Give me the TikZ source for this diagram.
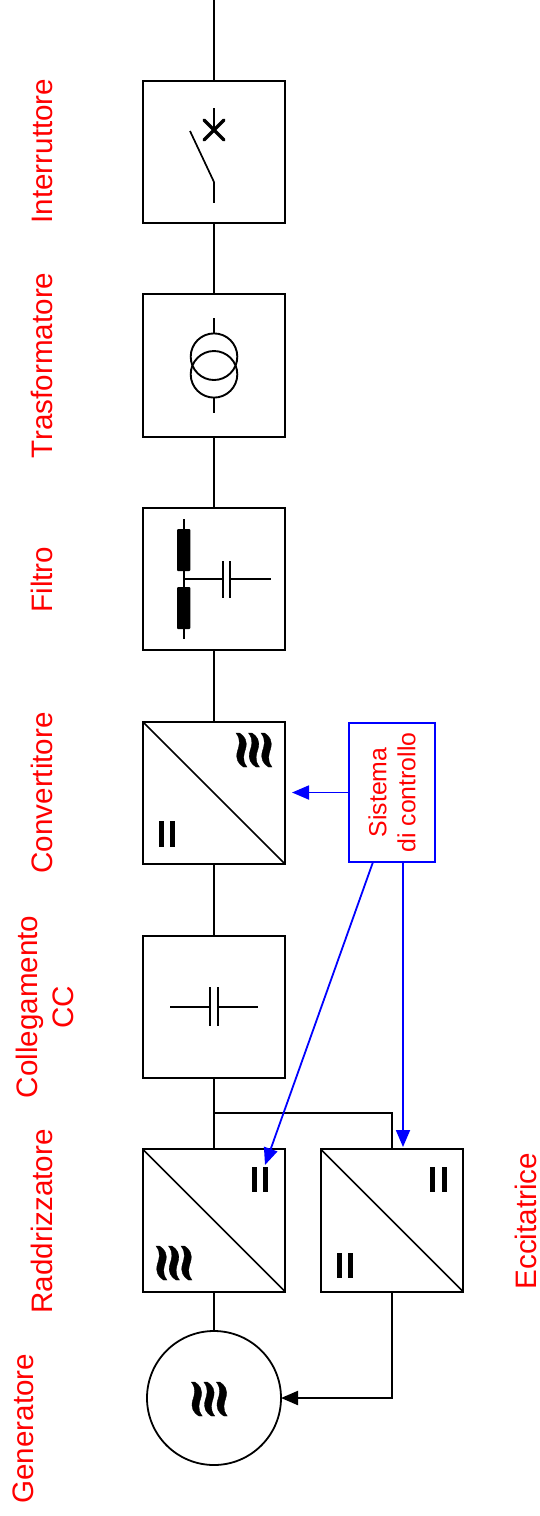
\documentclass[tikz,border=0pt]{standalone}
\usepackage{fontspec}
\setmainfont[Kerning=Off]{Liberation Sans}
\usetikzlibrary{arrows.meta}
\tikzset{
  x=1pt,y=-1pt,
  wire/.style={black,line width=2pt},
  thin wire/.style={black,line width=1.6pt},
  unit/.style={draw=black,line width=2pt,fill=white,minimum size=142.4pt,inner sep=0pt,outer sep=0pt},
  gen/.style={circle,draw=black,line width=1.8pt,fill=white,minimum size=134pt,inner sep=0pt,outer sep=0pt},
  lab/.style={text=red,rotate=90,anchor=base west,inner sep=0pt,outer sep=0pt,font=\fontsize{29.6}{36}\selectfont},
  labc/.style={text=red,rotate=90,anchor=center,align=center,inner sep=0pt,outer sep=0pt,font=\fontsize{29.6}{36}\selectfont},
  ctrlbox/.style={draw=blue,line width=1.8pt,text=red,rotate=90,align=center,minimum width=139pt,minimum height=86pt,inner sep=0pt,outer sep=0pt,font=\fontsize{24.8}{29}\selectfont},
  ctl/.style={blue,line width=1.8pt,-{Triangle[length=17pt,width=14pt]}},
  feed/.style={black,line width=2pt,-{Triangle[length=17pt,width=14pt]}},
  waves/.pic={
    \foreach \dx in {-12.5,0,12.5}{
      \filldraw[black,line width=0.3pt,shift={(\dx,0)}] (-5.5,-17) -- (-2,-17)
        .. controls (3,-14) and (6.5,-9) .. (4,-1)
        .. controls (2.5,4) and (0,10) .. (5.5,17)
        -- (2,17)
        .. controls (-3,14) and (-6.5,9) .. (-4,1)
        .. controls (-2.5,-4) and (0,-10) .. (-5.5,-17) -- cycle;
    }
  },
  bars/.pic={
    \fill[black] (-8.2,-12.8) rectangle (-3.2,12.8);
    \fill[black] (3.2,-12.8) rectangle (8.2,12.8);
  }
}
\begin{document}
\begin{tikzpicture}
\useasboundingbox (0,0) rectangle (540,1516);
\fill[white] (0,0) rectangle (540,1516);

% units
\node[unit] (intr) at (214,152) {};
\node[unit] (traf) at (214,365.5) {};
\node[unit] (filt) at (214,579) {};
\node[unit] (conv) at (214,793) {};
\node[unit] (dc) at (214,1007) {};
\node[unit] (rect) at (214,1220.5) {};
\node[unit] (exc) at (392,1220.5) {};
\node[gen] (gena) at (214,1398) {};
\node[ctrlbox] (ctrl) at (392,792.5) {Sistema\\di controllo};

% main connectors
\coordinate (top) at (214,0);
\coordinate (tap) at (214,1113);
\coordinate (tapr) at (392,1113);
\coordinate (fbk) at (392,1398);
\draw[wire] (top) -- (intr.north);
\draw[wire] (intr.south) -- (traf.north);
\draw[wire] (traf.south) -- (filt.north);
\draw[wire] (filt.south) -- (conv.north);
\draw[wire] (conv.south) -- (dc.north);
\draw[wire] (dc.south) -- (rect.north);
\draw[wire] (rect.south) -- (gena.north);
\draw[wire,line join=miter] (tap) -- (tapr) -- (exc.north);
\draw[feed] (exc.south) -- (fbk) -- (gena.east);

% control arrows
\coordinate (convtip) at (292,792.5);
\coordinate (diagstart) at (373,862);
\coordinate (diagtip) at (265,1165);
\coordinate (vstart) at (403,862);
\coordinate (vtip) at (403,1147);
\draw[ctl] (ctrl.north) -- (convtip);
\draw[ctl] (diagstart) -- (diagtip);
\draw[ctl] (vstart) -- (vtip);

% converter diagonals
\draw[thin wire] (conv.north west) -- (conv.south east);
\draw[thin wire] (rect.north west) -- (rect.south east);
\draw[thin wire] (exc.north west) -- (exc.south east);
\pic at (254,750) {waves};
\pic at (174,1263) {waves};
\pic at (209.3,1399) {waves};
\pic at (167.2,834) {bars};
\pic at (260.2,1179.5) {bars};
\pic at (438.5,1179.5) {bars};
\pic at (344.8,1265.5) {bars};

% breaker
\draw[wire] (214,108) -- (214,130);
\draw[black,line width=3.4pt,line cap=round] (204,120) -- (224,140) (224,120) -- (204,140);
\draw[black,line width=1.7pt] (190,131) -- (214,182);
\draw[wire] (214,182) -- (214,203);

% transformer
\draw[wire] (214,318) -- (214,333.4);
\draw[wire] (214,397.7) -- (214,413);
\draw[black,line width=1.9pt] (214,356.7) circle[radius=23.3];
\draw[black,line width=1.9pt] (214,374.3) circle[radius=23.3];

% filter
\draw[wire] (183.5,519) -- (183.5,639);
\fill[black,rounded corners=1pt] (177,529) rectangle (190.3,571);
\fill[black,rounded corners=1pt] (177,587) rectangle (190.3,629);
\draw[wire] (183.5,579.3) -- (223,579.3);
\draw[wire] (230.3,579.3) -- (270.7,579.3);
\draw[wire] (223,561) -- (223,597.7);
\draw[wire] (230.3,561) -- (230.3,597.7);

% dc link
\draw[wire] (170,1007) -- (210,1007);
\draw[wire] (218,1007) -- (258,1007);
\draw[wire] (210,987) -- (210,1026);
\draw[wire] (218,987) -- (218,1026);

% labels
\node[lab] (l1) at (52.8,223.5) {Interruttore};
\node[lab] (l2) at (52.8,458.5) {Trasformatore};
\node[lab] (l3) at (52.8,612.5) {Filtro};
\node[lab] (l4) at (52.8,873.5) {Convertitore};
\node[labc] (l5) at (45.3,1007) {Collegamento\\CC};
\node[lab] (l6) at (52.8,1313.5) {Raddrizzatore};
\node[lab] (l7) at (33.8,1503.5) {Generatore};
\node[lab] (l8) at (536.5,1289.5) {Eccitatrice};
\end{tikzpicture}
\end{document}
